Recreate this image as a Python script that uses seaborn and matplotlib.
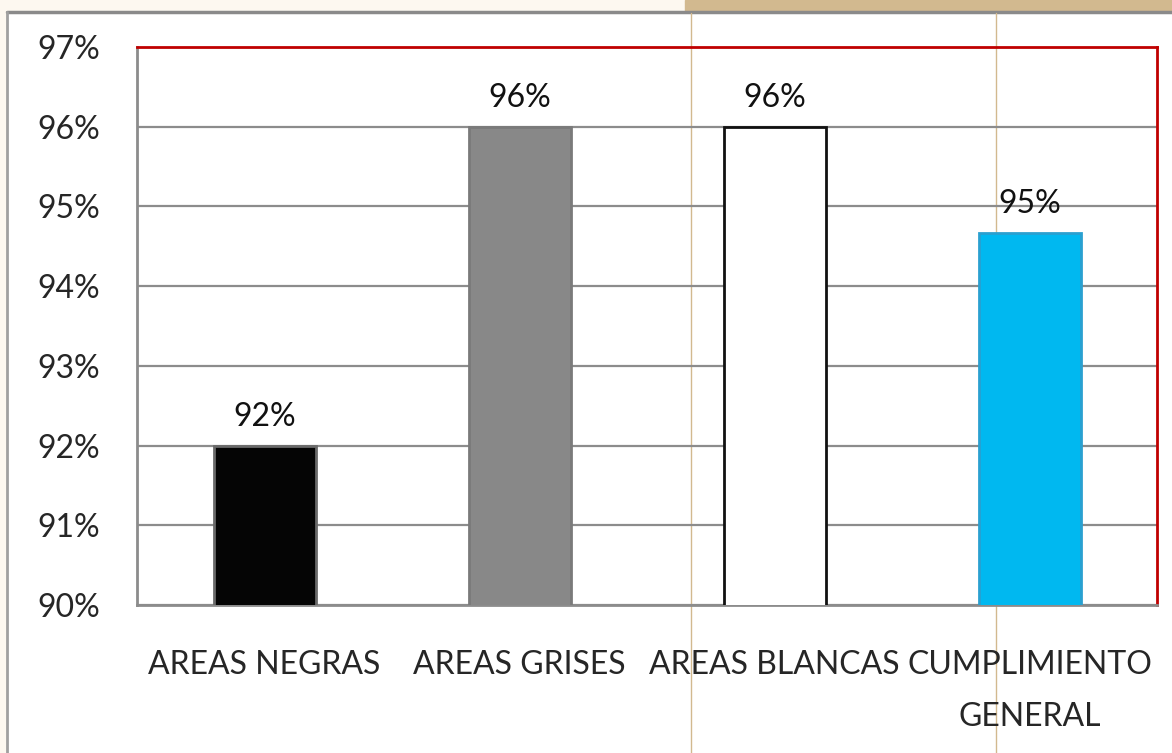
import pandas as pd
import seaborn as sns
import matplotlib.pyplot as plt
from matplotlib.lines import Line2D
from matplotlib.patches import Rectangle

# --- data ---
categories = ["AREAS NEGRAS", "AREAS GRISES", "AREAS BLANCAS", "CUMPLIMIENTO\nGENERAL"]
values = [92.0, 96.0, 96.0, 94.67]
bar_colors = ["#050505", "#888888", "#ffffff", "#00b8f0"]
edge_colors = ["#6a6a6a", "#7a7a7a", "#111111", "#2aa0d0"]
y_ticks = [90, 91, 92, 93, 94, 95, 96, 97]

df = pd.DataFrame({"cat": categories, "val": values})

sns.set_theme(style="white")
plt.rcParams["font.family"] = ["Lato", "DejaVu Sans"]

fig = plt.figure(figsize=(11.72, 7.53), dpi=100)
fig.patch.set_facecolor("white")
W, H = 1172, 753
PX = 72 / 100  # points per pixel

# slide decoration behind the chart
fig.patches.append(Rectangle((0, 1 - 11 / H), 685 / W, 11 / H, transform=fig.transFigure,
                             color="#fdf8f0", zorder=-3))
fig.patches.append(Rectangle((685 / W, 1 - 11 / H), 1 - 685 / W, 11 / H, transform=fig.transFigure,
                             color="#d2b98f", zorder=-3))
fig.patches.append(Rectangle((0, 0), 7 / W, 1 - 11 / H, transform=fig.transFigure,
                             color="#fdf8f0", zorder=-3))
fig.lines.append(Line2D([7 / W, 1], [1 - 12 / H, 1 - 12 / H], transform=fig.transFigure,
                        color="#8a8a8a", lw=2.5, zorder=-2))
fig.lines.append(Line2D([7 / W, 7 / W], [0, 1 - 12 / H], transform=fig.transFigure,
                        color="#a0a0a0", lw=2, zorder=-2))
for xp in (691, 996):
    fig.lines.append(Line2D([xp / W, xp / W], [0, 1 - 13 / H], transform=fig.transFigure,
                            color="#d2b98f", lw=1, zorder=-2))

ax = fig.add_axes([137 / W, 1 - 605 / H, (1157 - 137) / W, (605 - 47) / H])
ax.set_facecolor("none")

sns.barplot(data=df, x="cat", y="val", hue="cat", palette=bar_colors, legend=False,
            width=0.4, saturation=1, ax=ax, zorder=3)
for patch, ec in zip(ax.patches, edge_colors):
    patch.set_edgecolor(ec)
    patch.set_linewidth(2)

ax.set_ylim(90, 97)
ax.set_xlim(-0.5, 3.5)
ax.set_yticks(y_ticks)
ax.set_yticklabels([f"{t}%" for t in y_ticks], fontsize=23)
ax.grid(axis="y", color="#8c8c8c", lw=1.6, zorder=0)
ax.set_axisbelow(True)

# category labels, ticks on the boundaries
ax.set_xticks(range(len(categories)))
ax.set_xticklabels(categories, fontsize=23, linespacing=1.9)
ax.tick_params(axis="x", which="major", length=0, pad=45 * PX)
ax.set_xticks([-0.5, 0.5, 1.5, 2.5, 3.5], minor=True)
ax.tick_params(axis="x", which="minor", length=12 * PX, width=2, color="#8c8c8c", direction="out")
ax.tick_params(axis="y", length=13 * PX, width=2, color="#8c8c8c", direction="out", pad=24 * PX)
ax.set_xlabel("")
ax.set_ylabel("")

for side in ("top", "right"):
    ax.spines[side].set_color("#c00000")
    ax.spines[side].set_linewidth(2)
for side in ("left", "bottom"):
    ax.spines[side].set_color("#8c8c8c")
    ax.spines[side].set_linewidth(2)

# value labels above bars
for i, v in enumerate(values):
    ax.annotate(f"{round(v):.0f}%", (i, v), xytext=(0, 14 * PX), textcoords="offset points",
                ha="center", va="bottom", fontsize=23, color="#111111")

fig.savefig("out.png", dpi=100)
